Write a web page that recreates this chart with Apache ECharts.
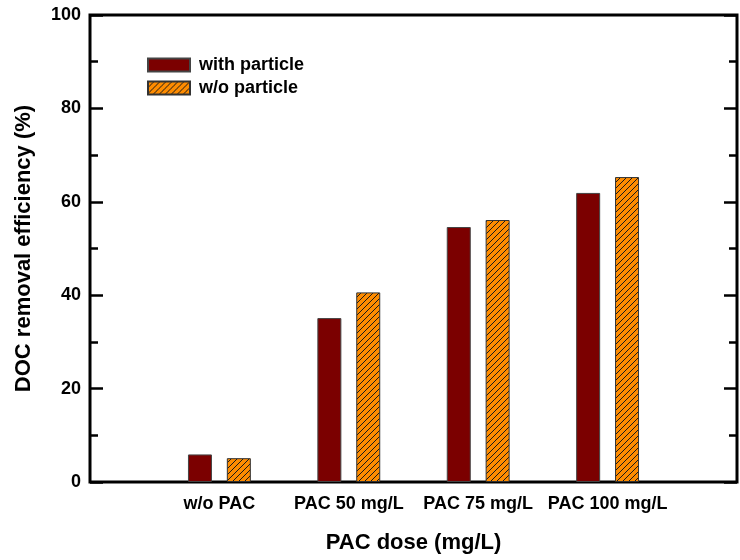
<!DOCTYPE html>
<html>
<head>
<meta charset="utf-8">
<script src="https://cdn.jsdelivr.net/npm/echarts@6/dist/echarts.min.js"></script>
<style>
html,body{margin:0;padding:0;background:#fff;}
#c{width:740px;height:560px;}
</style>
</head>
<body>
<div id="c"></div>
<script>
// Data
const categories = ['', 'w/o PAC', 'PAC 50 mg/L', 'PAC 75 mg/L', 'PAC 100 mg/L', ''];
const withParticle = ['-', 5.9, 35.1, 54.6, 61.9, '-'];
const withoutParticle = ['-', 5.1, 40.6, 56.1, 65.3, '-'];
const yTicks = [0, 20, 40, 60, 80, 100];

function hatch() {
  const s = 6;
  const cv = document.createElement('canvas');
  cv.width = s; cv.height = s;
  const ctx = cv.getContext('2d');
  ctx.fillStyle = '#FF8C00';
  ctx.fillRect(0, 0, s, s);
  ctx.strokeStyle = '#1a1a1a';
  ctx.lineWidth = 1;
  ctx.beginPath();
  ctx.moveTo(-1, s + 1); ctx.lineTo(s + 1, -1);
  ctx.moveTo(-1, 1); ctx.lineTo(1, -1);
  ctx.moveTo(s - 1, s + 1); ctx.lineTo(s + 1, s - 1);
  ctx.stroke();
  return cv;
}
const hatchFill = { image: hatch(), repeat: 'repeat' };

const FONT = '"Liberation Sans", Arial, sans-serif';
const chart = echarts.init(document.getElementById('c'), null, { renderer: 'canvas' });

const yBase = {
  type: 'value', min: 0, max: 100, interval: 20,
  axisLine: { show: false },
  splitLine: { show: false },
  axisTick: { show: true, inside: true, length: 13, lineStyle: { color: '#000', width: 2.5 } },
  minorTick: { show: true, splitNumber: 2, length: 8, lineStyle: { color: '#000', width: 2.5 } },
  minorSplitLine: { show: false }
};

chart.setOption({
  animation: false,
  backgroundColor: '#fff',
  grid: { left: 90, right: 3, top: 15, bottom: 78, show: true, borderColor: '#000', borderWidth: 3, backgroundColor: 'transparent' },
  legend: {
    orient: 'vertical', left: 147, top: 56, padding: 0,
    icon: 'rect',
    itemWidth: 42, itemHeight: 13, itemGap: 5,
    textStyle: { fontFamily: FONT, fontWeight: 'bold', fontSize: 18, color: '#000', padding: [0, 0, 0, 4] },
    data: ['with particle', 'w/o particle']
  },
  xAxis: {
    type: 'category', data: categories, boundaryGap: false,
    axisLine: { show: false }, axisTick: { show: false }, splitLine: { show: false },
    axisLabel: { fontFamily: FONT, fontWeight: 'bold', fontSize: 18, color: '#000', margin: 13, interval: 0 },
    name: 'PAC dose (mg/L)', nameLocation: 'middle', nameGap: 50,
    nameTextStyle: { fontFamily: FONT, fontWeight: 'bold', fontSize: 22, color: '#000' }
  },
  yAxis: [
    Object.assign({}, yBase, {
      position: 'left',
      axisLabel: { fontFamily: FONT, fontWeight: 'bold', fontSize: 18, color: '#000', margin: 9 },
      name: 'DOC removal efficiency (%)', nameLocation: 'middle', nameGap: 55,
      nameTextStyle: { fontFamily: FONT, fontWeight: 'bold', fontSize: 22, color: '#000' }
    }),
    Object.assign({}, yBase, { position: 'right', axisLabel: { show: false } })
  ],
  series: [
    {
      name: 'with particle', type: 'bar', data: withParticle,
      barWidth: 24, barGap: '62%',
      itemStyle: { color: '#7B0000', borderColor: '#444', borderWidth: 1 }
    },
    {
      name: 'w/o particle', type: 'bar', data: withoutParticle,
      barWidth: 24, barGap: '62%',
      itemStyle: { color: hatchFill, borderColor: '#333', borderWidth: 1 }
    }
  ]
});
</script>
</body>
</html>
